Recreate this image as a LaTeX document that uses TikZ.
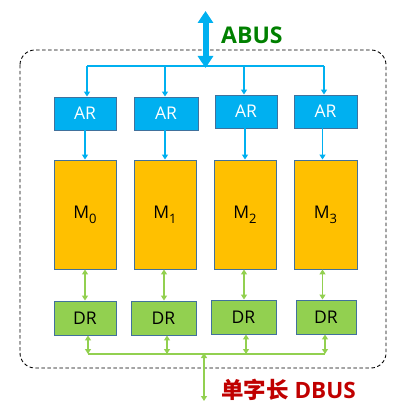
\documentclass[tikz,border=0pt]{standalone}
\usepackage{fontspec}
\setmainfont{Open Sans}
\newfontfamily\cjk{Noto Sans CJK SC}
\usetikzlibrary{arrows.meta}
\definecolor{arblue}{RGB}{0,176,240}
\definecolor{mgold}{RGB}{255,192,0}
\definecolor{drgreen}{RGB}{146,208,80}
\definecolor{edgeblue}{RGB}{65,113,156}
\definecolor{abusgreen}{RGB}{0,128,0}
\definecolor{dbusred}{RGB}{192,0,0}
\tikzset{
  regbox/.style={draw=edgeblue, line width=0.9pt, inner sep=0pt, font=\fontsize{17.5}{17.5}\selectfont},
  arbox/.style={regbox, fill=arblue, text=white, minimum height=33pt},
  mbox/.style={regbox, fill=mgold, text=black, minimum height=109pt},
  drbox/.style={regbox, fill=drgreen, text=black, minimum height=34pt},
  bline/.style={draw=arblue, line width=1.6pt},
  barrow/.style={bline, -{Triangle[length=5pt,width=6pt]}},
  gline/.style={draw=drgreen, line width=1.6pt},
  garrow/.style={gline, {Triangle[length=5pt,width=6pt]}-{Triangle[length=5pt,width=6pt]}},
}
\newcommand{\Mlabel}[1]{M\raisebox{-0.28em}{\fontsize{13}{13}\selectfont #1}}
\begin{document}
\begin{tikzpicture}[x=1pt,y=-1pt]
\useasboundingbox (0,0) rectangle (402,411);
% container
\draw[black, line width=0.9pt, dash pattern=on 3.5pt off 2.5pt, rounded corners=15pt] (20,50) rectangle (386,368);
% AR boxes
\node[arbox, minimum width=62pt] (ar1) at (85,113.5) {AR};
\node[arbox, minimum width=64pt] (ar2) at (166,113.5) {AR};
\node[arbox, minimum width=62pt] (ar3) at (246,111.5) {AR};
\node[arbox, minimum width=63pt] (ar4) at (325.5,111.5) {AR};
% M boxes
\node[mbox, minimum width=62pt] (m1) at (85,214.5) {\Mlabel{0}};
\node[mbox, minimum width=62pt] (m2) at (165,214.5) {\Mlabel{1}};
\node[mbox, minimum width=62pt] (m3) at (245,214.5) {\Mlabel{2}};
\node[mbox, minimum width=63pt] (m4) at (325.5,214.5) {\Mlabel{3}};
% DR boxes
\node[drbox, minimum width=62pt] (dr1) at (85,318) {DR};
\node[drbox, minimum width=65pt] (dr2) at (163.5,318) {DR};
\node[drbox, minimum width=65pt] (dr3) at (243.5,317) {DR};
\node[drbox, minimum width=60pt] (dr4) at (326,317) {DR};
% ABUS
\coordinate (abustop) at (205.5,11);
\coordinate (abusbot) at (205.5,68);
\coordinate (bus) at (205.5,66);
\draw[draw=arblue, line width=6pt, {Triangle[length=12pt,width=15pt]}-{Triangle[length=12pt,width=15pt]}] (abustop) -- (abusbot);
\node[anchor=west, text=abusgreen, font=\fontsize{23}{23}\selectfont\bfseries, inner sep=0pt] (abuslbl) at (221,35) {ABUS};
\draw[bline] ([xshift=2pt]ar1.north |- bus) -- ([xshift=-1.5pt]ar4.north |- bus);
\foreach \i/\dx in {1/2,2/-1,3/-2,4/-1.5}{
  \draw[barrow] ([xshift=\dx pt]ar\i.north |- bus) -- ([xshift=\dx pt]ar\i.north);
}
\foreach \i/\dx in {1/0,2/-1,3/-1,4/-3}{
  \draw[barrow] ([xshift=\dx pt]ar\i.south) -- ([xshift=\dx pt]ar\i.south |- m\i.north);
  \draw[garrow] ([xshift=\dx pt]m\i.south) -- ([xshift=\dx pt]m\i.south |- dr\i.north);
}
% DBUS
\coordinate (dbus) at (204,354);
\coordinate (dbusbot) at (204,401);
\draw[gline] ([xshift=3pt]dr1.south |- dbus) -- ([xshift=-1pt]dr4.south |- dbus);
\foreach \i/\dx in {1/3,2/3.5,3/2.5,4/-1}{
  \draw[garrow] ([xshift=\dx pt]dr\i.south) -- ([xshift=\dx pt]dr\i.south |- dbus);
}
\draw[garrow] ([yshift=1pt]dbus) -- (dbusbot);
\node[anchor=west, text=dbusred, font=\fontsize{22.5}{22.5}\selectfont\bfseries, inner sep=0pt] (dbuslbl) at (221,390) {{\cjk 单字长} DBUS};
\end{tikzpicture}
\end{document}
